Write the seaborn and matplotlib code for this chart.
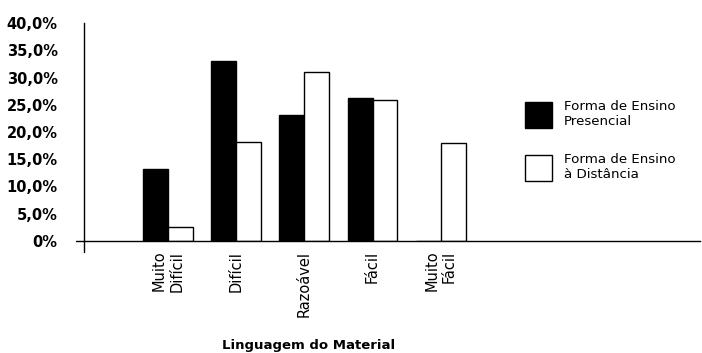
import matplotlib
matplotlib.use("Agg")
import matplotlib.pyplot as plt
import pandas as pd
import seaborn as sns

categories = ["Muito\nDifícil", "Difícil", "Razoável", "Fácil", "Muito\nFácil"]
presencial = [13.3, 33.0, 23.1, 26.3, 0.0]
distancia = [2.5, 18.1, 31.0, 25.9, 18.0]
series_names = ["Forma de Ensino\nPresencial", "Forma de Ensino\nà Distância"]
y_ticks = [0, 5, 10, 15, 20, 25, 30, 35, 40]
y_tick_labels = ["0%", "5,0%", "10,0%", "15,0%", "20,0%", "25,0%", "30,0%", "35,0%", "40,0%"]
x_title = "Linguagem do Material"

sns.set_style("white")
plt.rcParams["font.family"] = ["DejaVu Sans"]
for key in ["text.color", "axes.labelcolor", "xtick.color", "ytick.color"]:
    plt.rcParams[key] = "black"

df = pd.DataFrame({
    "categoria": categories * 2,
    "valor": presencial + distancia,
    "forma": [series_names[0]] * len(categories) + [series_names[1]] * len(categories),
})

fig = plt.figure(figsize=(7.02, 3.53), dpi=100)
ax = fig.add_axes([0.1197, 0.3173, 0.8775, 0.6175])

sns.barplot(data=df, x="categoria", y="valor", hue="forma", order=categories,
            hue_order=series_names, palette=["black", "white"], edgecolor="black",
            linewidth=1, width=0.73, ax=ax)

ax.set_xlim(-1.23, 7.8)
ax.set_ylim(0, 40)
ax.set_yticks(y_ticks)
ax.set_yticklabels(y_tick_labels, fontsize=10.5, fontweight="bold")
ax.tick_params(axis="y", length=0, pad=19)
ax.tick_params(axis="x", length=0, pad=7)
for lab in ax.get_xticklabels():
    lab.set_rotation(90)
    lab.set_fontsize(10.5)
    lab.set_multialignment("right")
    lab.set_va("top")
ax.set_xlabel("")
ax.set_ylabel("")

for side in ["top", "right"]:
    ax.spines[side].set_visible(False)
for side in ["left", "bottom"]:
    ax.spines[side].set_color("black")
    ax.spines[side].set_linewidth(1)

# little overhangs of the axes at the origin
ax.plot([-0.013, 0], [0, 0], color="black", lw=1, transform=ax.transAxes, clip_on=False)
ax.plot([0, 0], [0, -0.05], color="black", lw=1, transform=ax.transAxes, clip_on=False)

handles, labels = ax.get_legend_handles_labels()
ax.legend(handles, labels, loc="upper left", bbox_to_anchor=(0.716, 0.645),
          frameon=False, fontsize=9.6, handlelength=2.0, handleheight=2.6,
          labelspacing=1.85, handletextpad=0.9, borderpad=0, borderaxespad=0)

fig.text(309 / 702, 1 - 345 / 353, x_title, ha="center", va="center",
         fontsize=9.5, fontweight="bold")

fig.savefig("out.png", dpi=100)
